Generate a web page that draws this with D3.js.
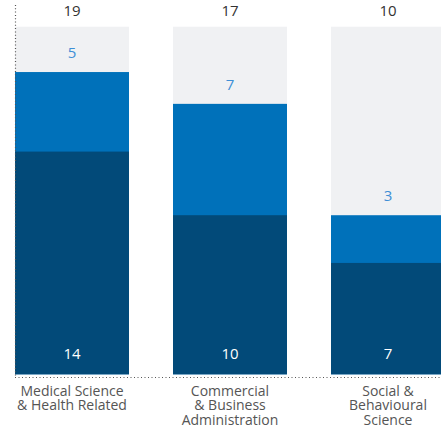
<!DOCTYPE html>
<html><head><meta charset="utf-8">
<script src="https://cdn.jsdelivr.net/npm/d3@7"></script>
<style>html,body{margin:0;padding:0;background:#fff;overflow:hidden}</style>
</head><body>
<svg id="c" width="441" height="429"></svg>
<script>
const categories = [["Medical Science","& Health Related"],["Commercial","& Business","Administration"],["Social &","Behavioural","Science"]];
const baseValues = [14, 10, 7];
const topValues = [5, 7, 3];
const totals = [19, 17, 10];
const yMax = d3.max(totals) * 1.15;

const svg = d3.select("#c");
const font = "'Open Sans', Lato, sans-serif";
const x0 = 15, bw = 114, step = 158;
const x = d3.scaleBand().domain(d3.range(categories.length)).range([x0, x0 + 2*step + bw]).paddingInner((step-bw)/step).paddingOuter(0);
const y = d3.scaleLinear().domain([0, yMax]).range([374.3, 26.7]);

const g = svg.selectAll("g.bar").data(categories).join("g").attr("class","bar");
g.append("rect").attr("x",(d,i)=>x(i)).attr("width",x.bandwidth()).attr("y",y(yMax)).attr("height",y(0)-y(yMax)).attr("fill","#f0f1f3");
g.append("rect").attr("x",(d,i)=>x(i)).attr("width",x.bandwidth()).attr("y",(d,i)=>y(totals[i])).attr("height",(d,i)=>y(0)-y(totals[i])).attr("fill","#0071ba");
g.append("rect").attr("x",(d,i)=>x(i)).attr("width",x.bandwidth()).attr("y",(d,i)=>y(baseValues[i])).attr("height",(d,i)=>y(0)-y(baseValues[i])).attr("fill","#024a79");

// labels
g.append("text").attr("x",(d,i)=>x(i)+x.bandwidth()/2).attr("y",16).attr("text-anchor","middle")
 .attr("font-family",font).attr("font-size",15).attr("fill","#333").text((d,i)=>totals[i]);
g.append("text").attr("x",(d,i)=>x(i)+x.bandwidth()/2).attr("y",(d,i)=>y(totals[i])-14).attr("text-anchor","middle")
 .attr("font-family",font).attr("font-size",15).attr("fill","#3e8fd6").text((d,i)=>topValues[i]);
g.append("text").attr("x",(d,i)=>x(i)+x.bandwidth()/2).attr("y",y(0)-15).attr("text-anchor","middle")
 .attr("font-family",font).attr("font-size",15).attr("fill","#fff").text((d,i)=>baseValues[i]);

// category labels
g.each(function(d,i){
  const t = d3.select(this).append("text").attr("text-anchor","middle").attr("font-family",font).attr("font-size",14).attr("fill","#555");
  d.forEach((line,j)=>t.append("tspan").attr("x",x(i)+x.bandwidth()/2).attr("y",395.5+j*14.8).text(line));
});

// dotted axes
svg.append("line").attr("x1",15.5).attr("x2",15.5).attr("y1",5).attr("y2",376).attr("stroke","#555").attr("stroke-width",1.2).attr("stroke-dasharray","1,2.3");
svg.append("line").attr("x1",15).attr("x2",441).attr("y1",377.5).attr("y2",377.5).attr("stroke","#555").attr("stroke-width",1).attr("stroke-dasharray","1,2.5");
</script>
</body></html>
